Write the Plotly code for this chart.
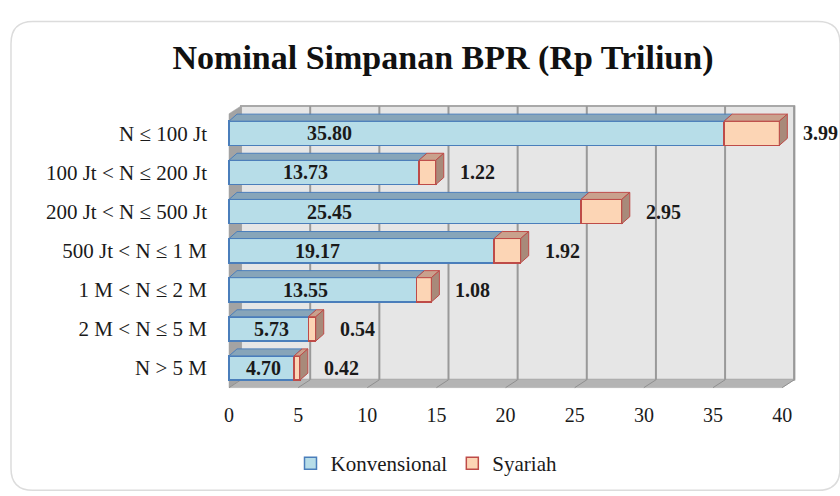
import plotly.graph_objects as go

# ---------------- data ----------------
categories = ["N ≤ 100 Jt", "100 Jt < N ≤ 200 Jt", "200 Jt < N ≤ 500 Jt",
              "500 Jt < N ≤ 1 M", "1 M < N ≤ 2 M", "2 M < N ≤ 5 M", "N > 5 M"]
konvensional = [35.80, 13.73, 25.45, 19.17, 13.55, 5.73, 4.70]
syariah = [3.99, 1.22, 2.95, 1.92, 1.08, 0.54, 0.42]
x_ticks = [0, 5, 10, 15, 20, 25, 30, 35, 40]

# ---------------- layout constants ----------------
W, H = 840, 496
ML, MR, MT, MB = 227, 43, 104, 103
FONT = "Liberation Serif"
KONV_FILL, KONV_LINE, KONV_TOP = "#b7dde8", "#4a7ebb", "#87a5b9"
SYA_FILL, SYA_LINE, SYA_TOP, SYA_SIDE = "#fcd5b5", "#be4b48", "#c9a18d", "#a88a7a"

n = len(categories)
ypos = list(range(n))
xmax = x_ticks[-1]
WALL_DX, WALL_DY = 0.87, 0.20     # depth of back wall (axis units)
BAR_DX, BAR_DY = 0.58, 0.18       # depth of bars
BAR_W = 0.62
top, bottom = -0.5, n - 0.5

shapes = []


def poly(pts, fill, line_color, width, layer="below"):
    path = "M " + " L ".join(f"{x},{y}" for x, y in pts) + " Z"
    shapes.append(dict(type="path", path=path, xref="x", yref="y", fillcolor=fill,
                       line=dict(color=line_color, width=width), layer=layer))


def seg(x0, y0, x1, y1, color, width, layer="below"):
    shapes.append(dict(type="line", x0=x0, y0=y0, x1=x1, y1=y1, xref="x", yref="y",
                       line=dict(color=color, width=width), layer=layer))


# back wall
poly([(WALL_DX, top - WALL_DY), (xmax + WALL_DX, top - WALL_DY),
      (xmax + WALL_DX, bottom - WALL_DY), (WALL_DX, bottom - WALL_DY)],
     "#e6e6e6", "#a9a9a9", 2)
# left side wall
poly([(0, top), (WALL_DX, top - WALL_DY), (WALL_DX, bottom - WALL_DY), (0, bottom)],
     "#a3a3a3", "#a3a3a3", 0.5)
# floor
poly([(0, bottom), (xmax, bottom), (xmax + WALL_DX, bottom - WALL_DY),
      (WALL_DX, bottom - WALL_DY)], "#b4b4b4", "#b4b4b4", 0.5)
# gridlines on wall + floor ticks
for v in x_ticks:
    if v > 0:
        seg(v + WALL_DX, top - WALL_DY, v + WALL_DX, bottom - WALL_DY, "#999999", 2)
    seg(v, bottom, v + WALL_DX, bottom - WALL_DY, "#8f8f8f", 1)

# 3D faces of bars
for i, (k, s) in enumerate(zip(konvensional, syariah)):
    yt = i - BAR_W / 2
    yb = i + BAR_W / 2
    poly([(0, yt), (k, yt), (k + BAR_DX, yt - BAR_DY), (BAR_DX, yt - BAR_DY)],
         KONV_TOP, KONV_LINE, 1, "above")
    e = k + s
    poly([(k, yt), (e, yt), (e + BAR_DX, yt - BAR_DY), (k + BAR_DX, yt - BAR_DY)],
         SYA_TOP, SYA_LINE, 1, "above")
    poly([(e, yt), (e + BAR_DX, yt - BAR_DY), (e + BAR_DX, yb - BAR_DY), (e, yb)],
         SYA_SIDE, SYA_LINE, 1, "above")

# outer rounded frame (pixel -> paper)
def px2paper(px, py):
    return (px - ML) / (W - ML - MR), (H - MB - py) / (H - MT - MB)

fx0, fy0, fx1, fy1, r = 11, 21, 840, 493, 22
pts = [("M", fx0 + r, fy0), ("L", fx1 - r, fy0), ("Q", fx1, fy0, fx1, fy0 + r),
       ("L", fx1, fy1 - r), ("Q", fx1, fy1, fx1 - r, fy1), ("L", fx0 + r, fy1),
       ("Q", fx0, fy1, fx0, fy1 - r), ("L", fx0, fy0 + r), ("Q", fx0, fy0, fx0 + r, fy0)]
path = ""
for p in pts:
    cmd = p[0]
    coords = p[1:]
    cs = []
    for j in range(0, len(coords), 2):
        a, b = px2paper(coords[j], coords[j + 1])
        cs.append(f"{a:.5f},{b:.5f}")
    path += cmd + " " + " ".join(cs) + " "
path += "Z"
shapes.append(dict(type="path", path=path, xref="paper", yref="paper",
                   line=dict(color="#dcdcdc", width=1.5), layer="below"))

# ---------------- traces ----------------
fig = go.Figure()
fig.add_trace(go.Bar(y=ypos, x=konvensional, orientation="h", width=BAR_W,
                     name="Konvensional",
                     marker=dict(color=KONV_FILL, line=dict(color=KONV_LINE, width=1.5))))
fig.add_trace(go.Bar(y=ypos, x=syariah, orientation="h", width=BAR_W,
                     name="Syariah",
                     marker=dict(color=SYA_FILL, line=dict(color=SYA_LINE, width=1.5))))

annotations = []
for i, (k, s) in enumerate(zip(konvensional, syariah)):
    lx = min(k * 0.53, 7.25, 3.5 + 0.15 * k)
    annotations.append(dict(x=lx, y=i, xref="x", yref="y", text=f"{k:.2f}",
                            showarrow=False, xanchor="center", yanchor="middle",
                            font=dict(family=FONT, size=20, color="#1a1a1a", weight="bold")))
    annotations.append(dict(x=k + s, y=i, xref="x", yref="y", text=f"{s:.2f}",
                            showarrow=False, xanchor="left", yanchor="middle", xshift=22,
                            font=dict(family=FONT, size=20, color="#1a1a1a", weight="bold")))

fig.update_layout(
    width=W, height=H,
    margin=dict(l=ML, r=MR, t=MT, b=MB),
    paper_bgcolor="white", plot_bgcolor="white",
    barmode="stack",
    title=dict(text="<b>Nominal Simpanan BPR (Rp Triliun)</b>", x=443 / W, xref="container",
               y=1 - 57 / H, yref="container", xanchor="center", yanchor="middle",
               font=dict(family=FONT, size=34, color="#111111")),
    xaxis=dict(range=[-0.145, 41.07], tickvals=x_ticks, ticktext=[str(v) for v in x_ticks],
               showgrid=False, zeroline=False, showline=False, ticks="",
               ticklabelstandoff=10,
               tickfont=dict(family=FONT, size=20, color="#1a1a1a")),
    yaxis=dict(range=[6.586, -0.749], tickvals=ypos, ticktext=categories,
               showgrid=False, zeroline=False, showline=False, ticks="",
               ticklabelstandoff=19,
               tickfont=dict(family=FONT, size=21, color="#1a1a1a")),
    legend=dict(orientation="h", x=0.35, xanchor="center", y=-0.253, yanchor="middle",
                font=dict(family=FONT, size=21, color="#1a1a1a"), itemwidth=30,
                bgcolor="rgba(0,0,0,0)", traceorder="normal"),
    shapes=shapes,
    annotations=annotations,
    showlegend=True,
)

fig.write_html("out.html", config={"displayModeBar": False},
               post_script="document.body.style.margin='0';document.body.style.overflow='hidden';")
